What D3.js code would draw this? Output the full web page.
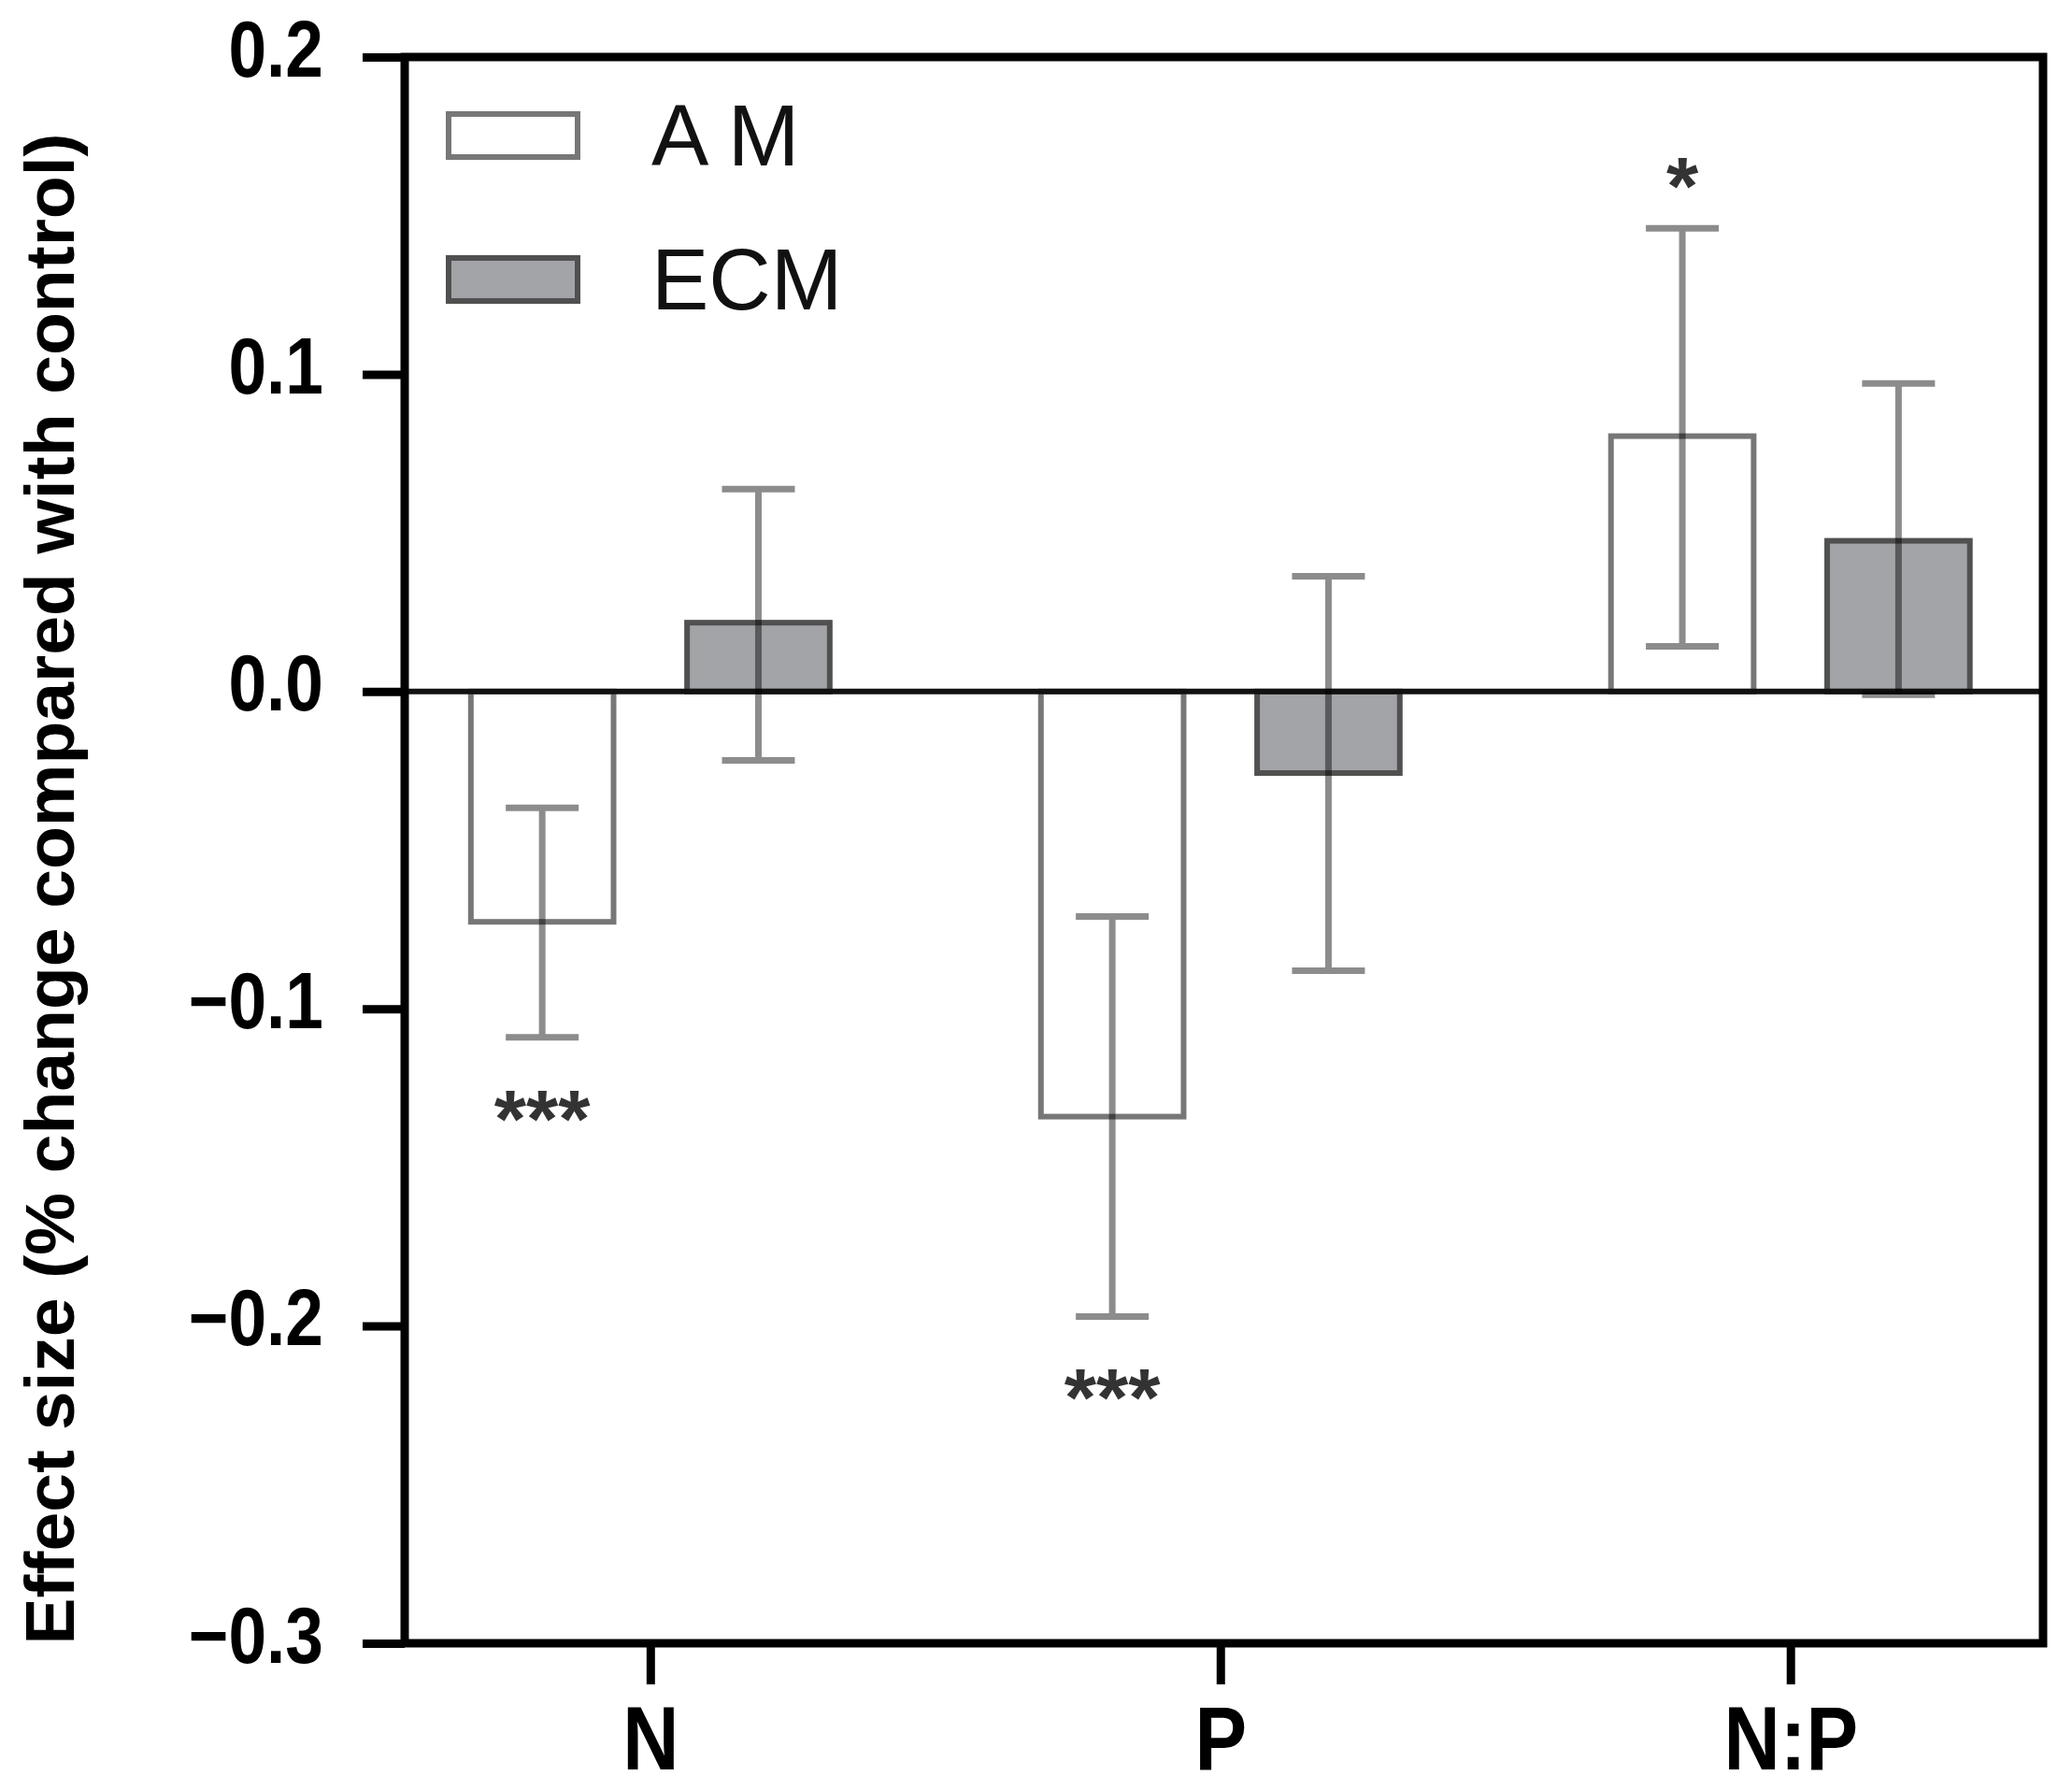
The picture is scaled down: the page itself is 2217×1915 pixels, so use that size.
<!DOCTYPE html>
<html>
<head>
<meta charset="utf-8">
<script src="https://cdn.jsdelivr.net/npm/d3@7"></script>
<style>
  html, body { margin: 0; padding: 0; background: #fff; }
  svg { display: block; }
  text { font-family: "Liberation Sans", Arial, sans-serif; }
</style>
</head>
<body>
<div id="chart"></div>
<script>
// data
const categories = ["N", "P", "N:P"];
const seriesNames = ["A M", "ECM"];

const amMean = [-0.0726, -0.134, 0.0805];
const amLow = [-0.109, -0.197, 0.0142];
const amHigh = [-0.0367, -0.0709, 0.146];

const ecmMean = [0.0217, -0.0257, 0.0475];
const ecmLow = [-0.0217, -0.088, -0.001];
const ecmHigh = [0.0638, 0.0363, 0.0971];

const amSig = ["***", "***", "*"];
const ecmSig = ["", "", ""];

const yTicks = [0.2, 0.1, 0.0, -0.1, -0.2, -0.3];

const width = 2217;
const height = 1915;
const plotLeft = 433, plotRight = 2186, plotTop = 61, plotBottom = 1758;

const seriesStyle = {
    "A M": { fill: "#ffffff", stroke: "#777777" },
    "ECM": { fill: "#a3a4a8", stroke: "#505050" }
};

// rows for drawing
const rows = [];
categories.forEach((c, i) => {
    rows.push({ cat: c, series: "A M", mean: amMean[i], low: amLow[i], high: amHigh[i], sig: amSig[i] });
    rows.push({ cat: c, series: "ECM", mean: ecmMean[i], low: ecmLow[i], high: ecmHigh[i], sig: ecmSig[i] });
});

const svg = d3.select('#chart')
    .append('svg')
    .attr('width', width)
    .attr('height', height);

svg.append('rect').attr('width', width).attr('height', height).attr('fill', '#fff');

const y = d3.scaleLinear()
    .domain([-0.3, 0.2])
    .range([plotBottom, plotTop]);

const x0 = d3.scalePoint()
    .domain(categories)
    .range([plotLeft, plotRight])
    .padding(0.437)
    .align(0.493);

const x1 = d3.scaleBand()
    .domain(seriesNames)
    .range([-192, 192])
    .paddingInner(0.34);

// bars
svg.append('g').selectAll('rect')
    .data(rows)
    .enter().append('rect')
    .attr('x', d => x0(d.cat) + x1(d.series))
    .attr('width', x1.bandwidth())
    .attr('y', d => Math.min(y(d.mean), y(0)))
    .attr('height', d => Math.abs(y(d.mean) - y(0)))
    .attr('fill', d => seriesStyle[d.series].fill)
    .attr('stroke', d => seriesStyle[d.series].stroke)
    .attr('stroke-width', 6);

// zero line
svg.append('line')
    .attr('x1', plotLeft).attr('x2', plotRight)
    .attr('y1', y(0)).attr('y2', y(0))
    .attr('stroke', '#111')
    .attr('stroke-width', 6);

// error bars
const capHalf = 39;
svg.append('g').selectAll('path')
    .data(rows)
    .enter().append('path')
    .attr('d', d => {
        const cx = x0(d.cat) + x1(d.series) + x1.bandwidth() / 2;
        const yl = y(d.low), yh = y(d.high);
        return `M${cx - capHalf},${yh}H${cx + capHalf}M${cx},${yh}V${yl}M${cx - capHalf},${yl}H${cx + capHalf}`;
    })
    .attr('fill', 'none')
    .attr('stroke', '#000')
    .attr('stroke-opacity', 0.45)
    .attr('stroke-width', 7);

// significance marks
svg.append('g').selectAll('text')
    .data(rows.filter(d => d.sig))
    .enter().append('text')
    .attr('x', d => x0(d.cat) + x1(d.series) + x1.bandwidth() / 2)
    .attr('y', d => d.mean < 0 ? y(d.low) + 77 + 40 : y(d.high) - 55 + 40)
    .attr('text-anchor', 'middle')
    .attr('font-size', 88)
    .attr('font-weight', 'bold')
    .attr('fill', '#333')
    .text(d => d.sig);

// frame
svg.append('rect')
    .attr('x', plotLeft).attr('y', plotTop)
    .attr('width', plotRight - plotLeft)
    .attr('height', plotBottom - plotTop)
    .attr('fill', 'none')
    .attr('stroke', '#000')
    .attr('stroke-width', 9);

// y axis
const yAxis = svg.append('g')
    .attr('transform', `translate(${plotLeft},0)`)
    .call(d3.axisLeft(y).tickValues(yTicks).tickFormat(d3.format('.1f')).tickSize(45).tickSizeOuter(0));
yAxis.select('.domain').remove();
yAxis.selectAll('.tick line').attr('stroke', '#000').attr('stroke-width', 9);
yAxis.selectAll('.tick text')
    .attr('x', 0).attr('dy', null).attr('y', 20)
    .attr('transform', 'translate(-87,0) scale(0.86,1)')
    .attr('font-size', 85)
    .attr('font-weight', 'bold')
    .attr('fill', '#000');

// x axis
const xAxis = svg.append('g')
    .attr('transform', `translate(0,${plotBottom})`)
    .call(d3.axisBottom(x0).tickSize(44).tickSizeOuter(0));
xAxis.select('.domain').remove();
xAxis.selectAll('.tick line').attr('stroke', '#000').attr('stroke-width', 9);
xAxis.selectAll('.tick text')
    .attr('y', 0).attr('dy', null)
    .attr('transform', 'translate(0,135) scale(0.86,1)')
    .attr('font-size', 97)
    .attr('font-weight', 'bold')
    .attr('fill', '#000');

// legend
const legend = svg.append('g');
const legendY = [122, 276];
seriesNames.forEach((s, i) => {
    legend.append('rect')
        .attr('x', 480).attr('y', legendY[i])
        .attr('width', 138).attr('height', 46)
        .attr('fill', seriesStyle[s].fill)
        .attr('stroke', seriesStyle[s].stroke)
        .attr('stroke-width', 6);
    legend.append('text')
        .attr('transform', `translate(697,${legendY[i] + 55})`)
        .attr('font-size', 92)
        .attr('fill', '#111')
        .text(s);
});

// y title
svg.append('text')
    .attr('transform', 'translate(79,951) rotate(-90)')
    .attr('text-anchor', 'middle')
    .attr('font-size', 75)
    .attr('font-weight', 'bold')
    .attr('fill', '#000')
    .text('Effect size (% change compared with control)');
</script>
</body>
</html>
